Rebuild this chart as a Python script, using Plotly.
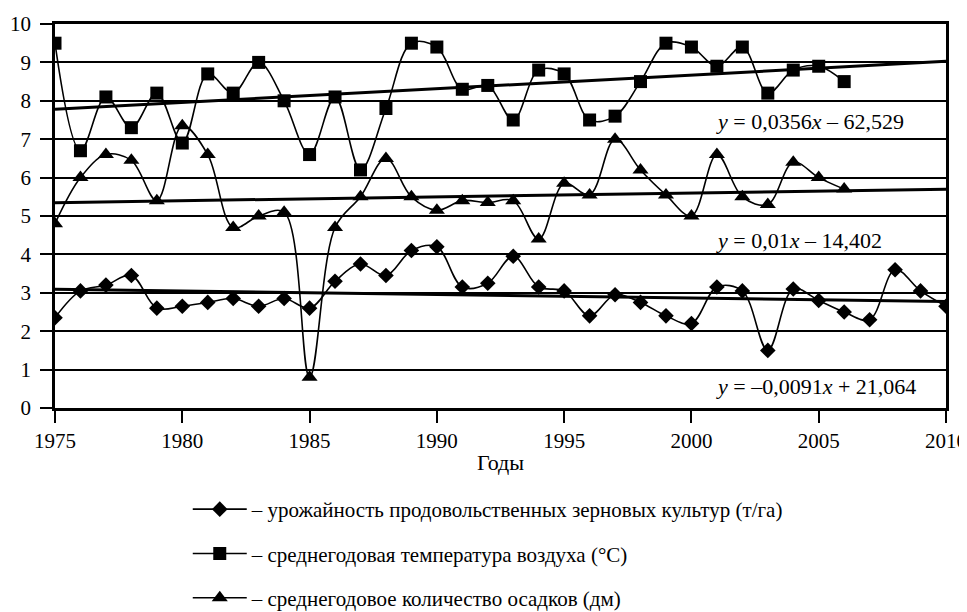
import plotly.graph_objects as go

years_temp = list(range(1975, 2007))
temp = [9.5, 6.7, 8.1, 7.3, 8.2, 6.9, 8.7, 8.2, 9.0, 8.0, 6.6, 8.1, 6.2, 7.8, 9.5, 9.4,
        8.3, 8.4, 7.5, 8.8, 8.7, 7.5, 7.6, 8.5, 9.5, 9.4, 8.9, 9.4, 8.2, 8.8, 8.9, 8.5]

years_prec = list(range(1975, 2007))
prec = [4.8, 6.0, 6.6, 6.45, 5.4, 7.35, 6.6, 4.7, 5.0, 5.1, 0.8, 4.7, 5.5, 6.5, 5.5, 5.15,
        5.4, 5.35, 5.4, 4.4, 5.85, 5.55, 7.0, 6.2, 5.55, 5.0, 6.6, 5.5, 5.3, 6.4, 6.0, 5.7]

years_yield = list(range(1975, 2011))
yld = [2.35, 3.05, 3.2, 3.45, 2.6, 2.65, 2.75, 2.85, 2.65, 2.85, 2.6, 3.3, 3.75, 3.45, 4.1, 4.2,
       3.15, 3.25, 3.95, 3.15, 3.05, 2.4, 2.95, 2.75, 2.4, 2.2, 3.15, 3.05, 1.5, 3.1, 2.8, 2.5,
       2.3, 3.6, 3.05, 2.65]

trend_years = [1975, 2010]
trend_temp = (0.0356, -62.529)
trend_prec = (0.01, -14.402)
trend_yield = (-0.0091, 21.064)

eq_texts = ["<i>y</i> = 0,0356<i>x</i> – 62,529",
            "<i>y</i> = 0,01<i>x</i> – 14,402",
            "<i>y</i> = –0,0091<i>x</i> + 21,064"]
eq_y = [7.45, 4.37, 0.55]

names = ["– урожайность продовольственных зерновых культур (т/га)",
         "– среднегодовая температура воздуха (°C)",
         "– среднегодовое количество осадков (дм)"]

FONT = "Liberation Serif, Times New Roman, serif"
fig = go.Figure()

series = [
    (years_yield, yld, "diamond", 12, names[0], "g1"),
    (years_temp, temp, "square", 13, names[1], "g2"),
    (years_prec, prec, "triangle-up", 14, names[2], "g3"),
]
for xs, ys, sym, sz, nm, grp in series:
    fig.add_trace(go.Scatter(
        x=xs, y=ys, mode="lines+markers", name=nm, legendgroup=grp,
        line=dict(color="black", width=1.6, shape="spline", smoothing=1.0),
        marker=dict(symbol=sym, size=sz, color="black"),
    ))

for (a, b) in [trend_temp, trend_prec, trend_yield]:
    fig.add_trace(go.Scatter(
        x=trend_years, y=[a * t + b for t in trend_years], mode="lines",
        line=dict(color="black", width=3), showlegend=False, hoverinfo="skip"))

for txt, yy in zip(eq_texts, eq_y):
    fig.add_annotation(x=2000.9, y=yy, xref="x", yref="y", text=txt, showarrow=False,
                       xanchor="left", yanchor="middle",
                       font=dict(family=FONT, size=22, color="black"))

fig.update_layout(
    width=967, height=612,
    margin=dict(l=47, r=29, t=16, b=212, autoexpand=False),
    plot_bgcolor="white", paper_bgcolor="white",
    font=dict(family=FONT, size=21, color="black"),
    showlegend=True,
    legend=dict(x=0.149, y=-0.211, xanchor="left", yanchor="top",
                orientation="v", tracegroupgap=14, itemwidth=54,
                font=dict(family=FONT, size=21, color="black"),
                bgcolor="rgba(0,0,0,0)"),
    xaxis=dict(range=[1975, 2010], dtick=5, tick0=1975, showgrid=False, automargin=False,
               showline=True, linecolor="black", linewidth=2.5, mirror=True,
               ticks="outside", ticklen=12, tickwidth=2, tickcolor="black",
               ticklabeloverflow="allow",
               tickfont=dict(family=FONT, size=21),
               title=dict(text="Годы", font=dict(family=FONT, size=22), standoff=3),
               zeroline=False),
    yaxis=dict(range=[0, 10], dtick=1, showgrid=True, gridcolor="black", gridwidth=2,
               automargin=False,
               showline=True, linecolor="black", linewidth=2.5, mirror=True,
               ticks="outside", ticklen=12, tickwidth=2, tickcolor="black",
               ticklabelstandoff=5, ticklabeloverflow="allow",
               tickfont=dict(family=FONT, size=21), zeroline=False),
)

fig.write_html("out.html")
